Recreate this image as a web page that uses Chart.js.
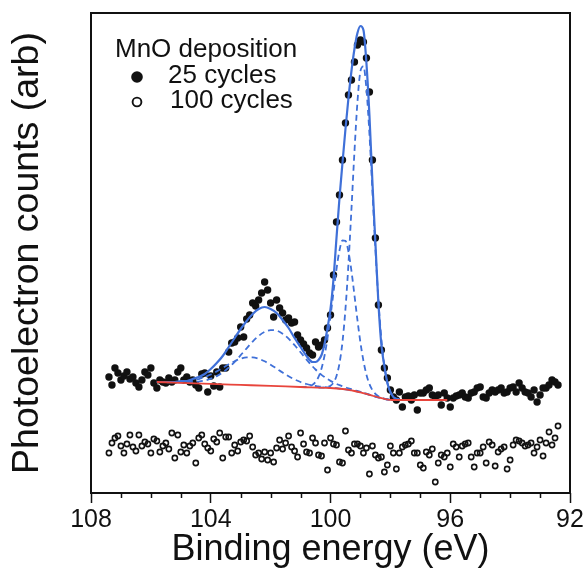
<!DOCTYPE html>
<html>
<head>
<meta charset="utf-8">
<script src="https://cdn.jsdelivr.net/npm/chart.js@4.4.1/dist/chart.umd.min.js"></script>
<style>
  html, body { margin: 0; padding: 0; background: #ffffff; }
  #wrap { width: 588px; height: 580px; }
</style>
</head>
<body>
<div id="wrap"><canvas id="c" width="588" height="580"></canvas></div>
<script>
// ---------------- data ----------------
const xTitle = 'Binding energy (eV)';
const yTitle = 'Photoelectron counts (arb)';
const legendTitle = 'MnO deposition';
const seriesNames = ['25 cycles', '100 cycles'];
const xTickValues = [108, 104, 100, 96, 92];

// measured binding energies (eV) of both scans
const energy = [107.4,107.3,107.2,107.1,107.0,106.9,106.8,106.7,106.6,106.5,106.4,106.3,106.2,106.1,106.0,
  105.9,105.8,105.7,105.6,105.5,105.4,105.3,105.2,105.1,105.0,104.9,104.8,104.7,104.6,104.5,
  104.4,104.3,104.2,104.1,104.0,103.9,103.8,103.7,103.6,103.5,103.4,103.3,103.2,103.1,103.0,
  102.9,102.8,102.7,102.6,102.5,102.4,102.3,102.2,102.1,102.0,101.9,101.8,101.7,101.6,101.5,
  101.4,101.3,101.2,101.1,101.0,100.9,100.8,100.7,100.6,100.5,100.4,100.3,100.2,100.1,100.0,
  99.9,99.8,99.7,99.6,99.5,99.4,99.3,99.2,99.1,99.0,98.9,98.8,98.7,98.6,98.5,
  98.4,98.3,98.2,98.1,98.0,97.9,97.8,97.7,97.6,97.5,97.4,97.3,97.2,97.1,97.0,
  96.9,96.8,96.7,96.6,96.5,96.4,96.3,96.2,96.1,96.0,95.9,95.8,95.7,95.6,95.5,
  95.4,95.3,95.2,95.1,95.0,94.9,94.8,94.7,94.6,94.5,94.4,94.3,94.2,94.1,94.0,
  93.9,93.8,93.7,93.6,93.5,93.4,93.3,93.2,93.1,93.0,92.9,92.8,92.7,92.6,92.5,92.4];

// 25 cycles (filled circles)
const counts25 = [116,108,125,120,113,117,121,114,116,110,106,113,121,118,125,
  110,105,113,111,110,115,111,113,121,125,113,116,111,113,108,
  105,119,120,101,117,107,121,106,125,125,141,150,151,155,166,
  156,174,178,190,187,193,200,211,203,190,176,193,185,180,173,
  175,170,171,158,153,149,145,140,138,151,146,148,153,165,178,
  218,271,298,333,370,398,413,431,448,453,451,435,401,333,255,
  188,143,125,115,103,96,93,101,86,96,97,93,98,83,100,
  100,103,105,98,96,98,88,100,95,86,95,97,98,100,96,
  95,100,101,105,106,96,95,100,103,101,103,105,100,101,105,
  106,101,110,105,101,100,96,103,91,98,105,105,108,113,111,108];

// 100 cycles (open circles)
const counts100 = [40,50,55,57,47,40,49,58,46,42,58,47,51,49,40,
  54,52,41,47,50,44,60,35,58,41,48,40,47,50,30,
  55,58,49,45,42,54,51,60,35,56,56,40,48,42,51,
  53,52,57,46,38,40,34,41,33,40,31,45,53,44,50,
  57,46,42,36,60,49,41,40,55,50,38,37,50,23,55,
  49,48,31,30,62,43,40,49,49,47,40,45,19,47,38,
  35,36,21,28,47,40,24,40,46,48,49,52,40,40,28,
  25,41,38,44,11,30,38,36,40,26,49,46,36,47,49,
  50,36,26,40,40,46,30,51,48,27,41,44,46,24,33,
  48,53,52,50,47,48,50,40,46,53,37,50,61,48,55,67];

// fitted envelope and components
const fitEnergy = [105.8,105.6,105.4,105.2,105.0,104.8,104.6,104.4,104.2,104.0,103.8,103.6,103.4,103.2,103.0,
  102.8,102.6,102.4,102.2,102.0,101.8,101.6,101.4,101.2,101.0,100.8,100.6,
  100.5,100.4,100.3,100.2,100.1,100.0,99.9,99.8,99.7,99.6,99.5,99.4,99.3,99.2,99.1,99.0,98.9,98.8,98.7,98.6,
  98.5,98.4,98.3,98.2,98.1,98.0,97.9,97.8,97.7];
const fitTotal = [111,111,111,111,112,112,114,116,119,124,130,137,146,155,164,
  172,179,184,186,184,180,173,165,155,146,137,131,
  131,133,138,149,165,184,214,255,295,330,364,395,422,444,460,467,463,430,378,311,
  250,190,148,127,110,101,96,94,94];
const fitCompA = [111.0,110.8,110.7,110.6,110.5,110.6,110.8,111.4,112.5,114.3,116.9,120.6,125.4,131.2,137.8,
  144.7,151.4,157.1,161.1,162.9,162.4,159.3,154.3,147.9,140.7,133.4,126.6,
  123.5,120.7,118.1,115.9,113.9,112.1,110.5,109.1,107.9,106.8,105.7,104.7,103.8,102.9,102.1,101.2,100.4,99.4,98.4,97.4,
  96.4,95.6,94.8,94.2,93.6,93.2,93.0,93.0,93.0];
const fitCompB = [111.1,110.9,110.9,110.9,111.2,111.7,112.5,113.9,115.9,118.5,121.6,125.1,128.7,131.8,134.3,
  135.6,135.6,134.3,131.7,128.3,124.4,120.4,116.7,113.6,111.0,109.0,107.6,
  107.0,106.6,106.2,105.9,105.6,105.3,105.0,104.8,104.4,104.1,103.6,103.1,102.6,102.0,101.4,100.7,100.0,99.1,98.2,97.3,
  96.4,95.6,94.8,94.2,93.6,93.2,93.0,93.0,93.0];
const fitCompN2 = [null,null,null,null,null,null,null,null,null,null,null,null,null,null,null,
  null,null,null,null,null,null,null,null,null,106.0,106.3,108.3,
  111.1,116.1,124.6,137.3,154.8,176.6,200.7,224.0,242.5,252.6,252.2,241.3,222.0,197.9,173.0,150.4,132.1,118.4,108.9,102.9,
  99.1,96.8,95.3,94.4,93.6,93.2,93.0,93.0,93.0];
const fitCompN1 = [null,null,null,null,null,null,null,null,null,null,null,null,null,null,null,
  null,null,null,null,null,null,null,null,null,null,null,null,
  null,105.4,105.4,105.5,106.0,107.3,110.4,117.0,129.6,151.1,184.1,229.4,284.0,341.3,390.9,421.9,426.7,403.9,359.2,302.1,
  243.8,192.9,153.7,126.9,110.3,101.0,96.4,94.4,93.5];

// background (red)
const bgEnergy = [105.8,105.0,104.0,103.0,102.0,101.0,100.0,99.6,99.4,99.2,99.0,98.8,98.6,98.4,98.2,98.0,97.8,97.0,96.1];
const bgCounts = [111,110.2,109.1,108.1,107.1,106,105,104,103.1,102,100.7,99.1,97.3,95.6,94.2,93.2,93,93,93];

// ---------------- helpers ----------------
const FONT = '"Liberation Sans", Arial, Helvetica, sans-serif';
const BLUE = '#3f70d8';
const RED = '#e8453c';
const INK = '#111111';

function pts(xs, ys) { return xs.map((x, i) => ({ x: x, y: ys[i] })); }

const boxPlugin = {
  id: 'frameAndMinorTicks',
  afterDraw(chart) {
    const ctx = chart.ctx;
    const a = chart.chartArea;
    const xs = chart.scales.x;
    ctx.save();
    ctx.strokeStyle = INK;
    ctx.lineWidth = 2;
    ctx.strokeRect(a.left, a.top, a.right - a.left, a.bottom - a.top);
    ctx.lineWidth = 1.5;
    for (let v = Math.ceil(xs.min); v <= xs.max; v++) {
      if (xTickValues.indexOf(v) !== -1) continue;
      const px = Math.round(xs.getPixelForValue(v)) + 0.5;
      ctx.beginPath();
      ctx.moveTo(px, a.bottom);
      ctx.lineTo(px, a.bottom + 5);
      ctx.stroke();
    }
    ctx.restore();
  }
};

const legendPlugin = {
  id: 'insetLegend',
  afterDraw(chart) {
    const ctx = chart.ctx;
    ctx.save();
    ctx.fillStyle = INK;
    ctx.strokeStyle = INK;
    ctx.font = '26px ' + FONT;
    ctx.textBaseline = 'middle';
    ctx.textAlign = 'left';
    ctx.fillText(legendTitle, 115, 50);
    ctx.beginPath();
    ctx.arc(137, 77, 5.8, 0, Math.PI * 2);
    ctx.fill();
    ctx.fillText(seriesNames[0], 168, 76);
    ctx.beginPath();
    ctx.lineWidth = 1.9;
    ctx.arc(137, 102, 4.4, 0, Math.PI * 2);
    ctx.stroke();
    ctx.fillText(seriesNames[1], 170, 101);
    ctx.restore();
  }
};

const lineBase = {
  type: 'line',
  showLine: true,
  pointRadius: 0,
  pointHoverRadius: 0,
  fill: false,
  cubicInterpolationMode: 'monotone',
  spanGaps: false
};

new Chart(document.getElementById('c'), {
  type: 'scatter',
  data: {
    datasets: [
      Object.assign({}, lineBase, { label: 'background', data: pts(bgEnergy, bgCounts),
        borderColor: RED, borderWidth: 1.8, order: 0 }),
      Object.assign({}, lineBase, { label: 'fit', data: pts(fitEnergy, fitTotal),
        borderColor: BLUE, borderWidth: 2.2, order: 1 }),
      Object.assign({}, lineBase, { label: 'component A', data: pts(fitEnergy, fitCompA),
        borderColor: BLUE, borderWidth: 1.8, borderDash: [6, 4], order: 2 }),
      Object.assign({}, lineBase, { label: 'component B', data: pts(fitEnergy, fitCompB),
        borderColor: BLUE, borderWidth: 1.8, borderDash: [6, 4], order: 2 }),
      Object.assign({}, lineBase, { label: 'component N2', data: pts(fitEnergy, fitCompN2),
        borderColor: BLUE, borderWidth: 1.8, borderDash: [6, 4], order: 2 }),
      Object.assign({}, lineBase, { label: 'component N1', data: pts(fitEnergy, fitCompN1),
        borderColor: BLUE, borderWidth: 1.8, borderDash: [6, 4], order: 2 }),
      { label: seriesNames[0], data: pts(energy, counts25), showLine: false,
        pointRadius: 3.7, pointBackgroundColor: INK, pointBorderColor: INK, pointBorderWidth: 0, order: 5 },
      { label: seriesNames[1], data: pts(energy, counts100), showLine: false,
        pointRadius: 2.6, pointBackgroundColor: 'rgba(255,255,255,0)', pointBorderColor: INK, pointBorderWidth: 1.6, order: 5 }
    ]
  },
  options: {
    responsive: false,
    animation: false,
    devicePixelRatio: 1,
    layout: { padding: { left: 0, right: 18, top: 13, bottom: 0 } },
    plugins: { legend: { display: false }, tooltip: { enabled: false }, title: { display: false } },
    scales: {
      x: {
        type: 'linear', reverse: true, min: 92, max: 108,
        afterBuildTicks(scale) { scale.ticks = xTickValues.map(v => ({ value: v })); },
        ticks: { font: { size: 25, family: FONT }, color: INK, padding: 2, maxRotation: 0, autoSkip: false },
        grid: { display: true, drawOnChartArea: false, drawTicks: true, tickLength: 10, tickWidth: 1.5, tickColor: INK },
        border: { display: false },
        title: { display: true, text: xTitle, color: INK, font: { size: 36, family: FONT }, padding: { top: 0, bottom: 8 } },
        afterFit(scale) { scale.height = 87; }
      },
      y: {
        min: 0, max: 480,
        ticks: { display: false },
        grid: { display: false, drawTicks: false },
        border: { display: false },
        title: { display: true, text: yTitle, color: INK, font: { size: 37.5, family: FONT }, padding: { top: 5, bottom: 0 } },
        afterFit(scale) { scale.width = 91; }
      }
    }
  },
  plugins: [boxPlugin, legendPlugin]
});
</script>
</body>
</html>
